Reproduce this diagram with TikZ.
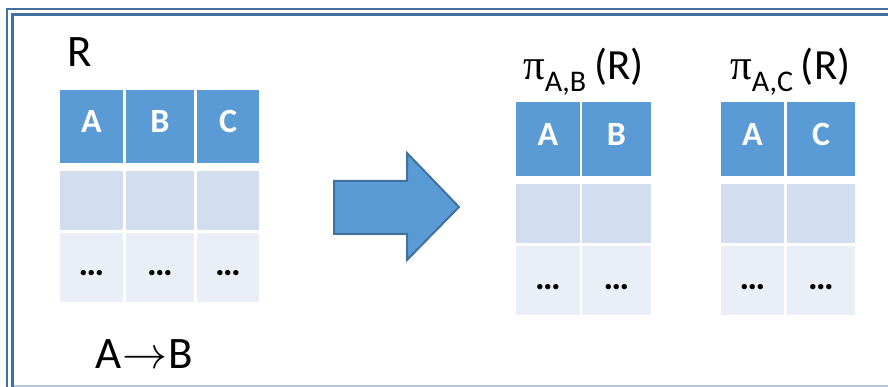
\documentclass[tikz,border=0pt]{standalone}
\usepackage{fix-cm}
\usepackage{fontspec}
\setmainfont{Carlito}
\newfontfamily\symbolfont{Liberation Serif}
\definecolor{hdrblue}{HTML}{5B9BD5}
\definecolor{rowmid}{HTML}{D2DEEF}
\definecolor{rowlow}{HTML}{E9EEF7}
\definecolor{frameblue}{HTML}{41719C}
\definecolor{framelight}{HTML}{B4C7DC}
\tikzset{
  cellbase/.style={rectangle, inner sep=0pt, outer sep=0pt, draw=none},
  hdrcell/.style={cellbase, fill=hdrblue, text=white,
    font=\fontsize{34}{40}\selectfont\bfseries, text height=21pt, text depth=8pt},
  midcell/.style={cellbase, fill=rowmid},
  lowcell/.style={cellbase, fill=rowlow,
    font=\fontsize{36}{42}\selectfont\bfseries, text height=17pt, text depth=0pt},
  bigtext/.style={inner sep=0pt, font=\fontsize{45}{52}\selectfont},
  projtext/.style={inner sep=0pt, font=\fontsize{43}{50}\selectfont},
  bigarrow/.style={fill=hdrblue, draw=frameblue, line width=2pt, line join=miter},
}
\newcommand{\projlabel}[1]{{\symbolfont π}\raisebox{-12pt}{\fontsize{30}{34}\selectfont #1}\hspace{8pt}(R)}
\begin{document}
\begin{tikzpicture}[x=1pt, y=-1pt]
\useasboundingbox (0,0) rectangle (888,387);

% double frame, open to the right
\draw[frameblue, line width=2.4pt] (7,390) -- (7,9) -- (892,9);
\draw[frameblue, line width=2.4pt] (12.5,390) -- (12.5,14.5) -- (892,14.5);
\draw[framelight, line width=2pt] (13.7,386) -- (892,386);

% relation R
\node[bigtext, anchor=base west] (rname) at (67,67) {R};
\node[hdrcell, minimum width=63pt, minimum height=73pt] (ra) at (91.5,126.5) {A};
\node[hdrcell, minimum width=68pt, minimum height=73pt] (rb) at (160,126.5) {B};
\node[hdrcell, minimum width=62pt, minimum height=73pt] (rc) at (228,126.5) {C};
\node[midcell, minimum width=63pt, minimum height=59pt] (ra2) at (91.5,200.5) {};
\node[midcell, minimum width=68pt, minimum height=59pt] (rb2) at (160,200.5) {};
\node[midcell, minimum width=62pt, minimum height=59pt] (rc2) at (228,200.5) {};
\node[lowcell, minimum width=63pt, minimum height=69pt] (ra3) at (91.5,267.5) {…};
\node[lowcell, minimum width=68pt, minimum height=69pt] (rb3) at (160,267.5) {…};
\node[lowcell, minimum width=62pt, minimum height=69pt] (rc3) at (228,267.5) {…};
\node[bigtext, anchor=base west] (fd) at (95,368) {A\kern1pt$\rightarrow$\kern1ptB};

% block arrow
\draw[bigarrow] (334,181) -- (407,181) -- (407,153) -- (459,207)
  -- (407,260) -- (407,234) -- (334,234) -- cycle;

% projection onto A,B
\node[projtext, anchor=base west] (pab) at (523,80) {\projlabel{A,B}};
\node[hdrcell, minimum width=64pt, minimum height=74pt] (pa) at (548,139) {A};
\node[hdrcell, minimum width=69pt, minimum height=74pt] (pb) at (616.5,139) {B};
\node[midcell, minimum width=64pt, minimum height=59pt] (pa2) at (548,213.5) {};
\node[midcell, minimum width=69pt, minimum height=59pt] (pb2) at (616.5,213.5) {};
\node[lowcell, minimum width=64pt, minimum height=69pt] (pa3) at (548,280.5) {…};
\node[lowcell, minimum width=69pt, minimum height=69pt] (pb3) at (616.5,280.5) {…};

% projection onto A,C
\node[projtext, anchor=base west] (pac) at (730,80) {\projlabel{A,C}};
\node[hdrcell, minimum width=63pt, minimum height=74pt] (qa) at (752.5,139) {A};
\node[hdrcell, minimum width=68pt, minimum height=74pt] (qc) at (821,139) {C};
\node[midcell, minimum width=63pt, minimum height=59pt] (qa2) at (752.5,213.5) {};
\node[midcell, minimum width=68pt, minimum height=59pt] (qc2) at (821,213.5) {};
\node[lowcell, minimum width=63pt, minimum height=69pt] (qa3) at (752.5,280.5) {…};
\node[lowcell, minimum width=68pt, minimum height=69pt] (qc3) at (821,280.5) {…};
\end{tikzpicture}
\end{document}
